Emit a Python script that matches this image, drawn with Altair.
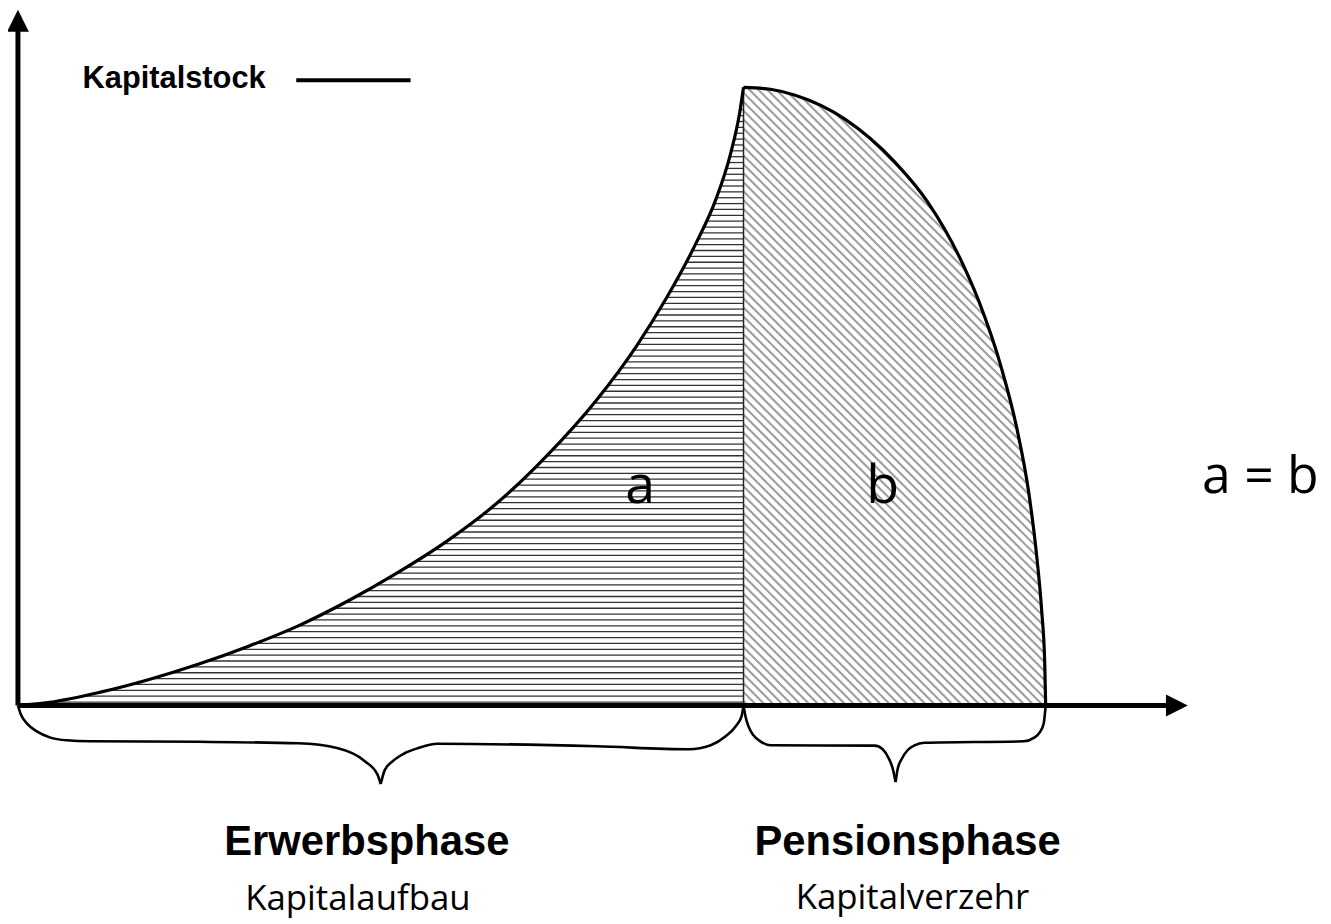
import altair as alt
import numpy as np
import pandas as pd

# ---------------- data (abstract units: time t, capital k) ----------------
phase_a_t = [0, 3.2, 8.2, 13.2, 18.2, 23.2, 28.2, 33.2, 38.2, 43.2, 48.2, 53.2,
             58.2, 62.2, 65.2, 68.2, 70.2, 71.7, 72.6, 73.0]
phase_a_k = [0, 0.32, 1.32, 2.62, 4.17, 5.97, 8.02, 10.52, 13.37, 16.57, 20.37, 25.12,
             30.72, 36.12, 40.92, 46.47, 50.87, 55.52, 59.57, 62.2]
phase_b_t = [73.0, 75.7, 78.2, 83.2, 88.2, 91.5, 94.9, 96.7, 98.9, 100.5,
             101.7, 102.5, 103.0, 103.3, 103.4]
phase_b_k = [62.2, 62.0, 61.4, 59.0, 54.7, 50.7, 44.75, 40.61, 34.12, 27.88,
             21.4, 15.0, 9.5, 4.4, 0.0]

# braces (each split into two halves meeting at the tip)
brace1a_t = [0, 0.3, 0.9, 1.9, 3.2, 4.9, 7.2, 18.2, 28.2, 32.2, 34.9, 36.2, 36.5]
brace1a_k = [0, -0.9, -1.8, -2.6, -3.2, -3.5, -3.6, -3.65, -3.8, -4.3, -5.6, -7.0, -7.9]
brace1b_t = [36.5, 36.9, 37.7, 38.9, 40.2, 42.2, 58.2, 67.5, 69.7, 71.2, 72.2, 72.8, 73.0]
brace1b_k = [-7.9, -6.5, -5.6, -4.8, -4.3, -3.85, -4.1, -4.4, -4.0, -3.1, -2.1, -1.1, 0]
brace2a_t = [73.0, 73.2, 73.5, 74.0, 74.7, 75.7, 86.2, 87.0, 87.6, 88.0, 88.3]
brace2a_k = [0, -1.1, -2.1, -3.0, -3.6, -4.0, -4.03, -4.4, -5.3, -6.3, -7.7]
brace2b_t = [88.3, 88.5, 88.9, 89.5, 90.2, 91.2, 101.2, 102.2, 102.8, 103.2, 103.4]
brace2b_k = [-7.7, -6.4, -5.4, -4.5, -4.0, -3.75, -3.6, -3.25, -2.7, -1.8, 0]

phase_titles = ["Erwerbsphase", "Pensionsphase"]
phase_title_t = [35.1, 89.5]
phase_subtitles = ["Kapitalaufbau", "Kapitalverzehr"]
phase_subtitle_t = [34.2, 90.0]
area_labels = ["a", "b"]
area_label_t = [62.6, 87.0]
legend_label = "Kapitalstock"
equation = "a = b"

# ---------------- layout constants ----------------
X_DOMAIN = [-1.0, 130.5]
Y_DOMAIN = [-20.9, 69.9]
W, H = 1315, 908

XS = alt.Scale(domain=X_DOMAIN, nice=False, zero=False)
YS = alt.Scale(domain=Y_DOMAIN, nice=False, zero=False)


def X(f):
    return alt.X(f, type="quantitative", scale=XS, axis=None)


def Y(f):
    return alt.Y(f, type="quantitative", scale=YS, axis=None)


# ---------------- monotone (d3 monotoneX) evaluation for hatch ends ----------------
def mono_tangents(x, y):
    h = np.diff(x)
    s = np.diff(y) / h
    n = len(x)
    t = np.zeros(n)
    for i in range(1, n - 1):
        p = (s[i - 1] * h[i] + s[i] * h[i - 1]) / (h[i - 1] + h[i])
        t[i] = (np.sign(s[i - 1]) + np.sign(s[i])) * min(abs(s[i - 1]), abs(s[i]), 0.5 * abs(p))
    t[0] = (3 * s[0] - t[1]) / 2
    t[-1] = (3 * s[-1] - t[-2]) / 2
    return t


def mono_eval(x, y, xq):
    x = np.asarray(x, float)
    y = np.asarray(y, float)
    t = mono_tangents(x, y)
    n = len(x)
    idx = np.clip(np.searchsorted(x, xq, side="right") - 1, 0, n - 2)
    x0 = x[idx]
    h = x[idx + 1] - x0
    u = (xq - x0) / h
    h00 = 2 * u**3 - 3 * u**2 + 1
    h10 = u**3 - 2 * u**2 + u
    h01 = -2 * u**3 + 3 * u**2
    h11 = u**3 - u**2
    return h00 * y[idx] + h10 * h * t[idx] + h01 * y[idx + 1] + h11 * h * t[idx + 1]


# horizontal hatch in region a
ta_dense = np.linspace(phase_a_t[0], phase_a_t[-1], 8000)
ka_dense = np.maximum.accumulate(mono_eval(phase_a_t, phase_a_k, ta_dense))
hk = np.arange(0.35, phase_a_k[-1] - 0.1, 0.59)
hx = np.interp(hk, ka_dense, ta_dense)
hatch_a = pd.DataFrame({"t": hx, "t2": phase_a_t[-1], "k": hk, "k2": hk})

# diagonal hatch in region b
tb_dense = np.linspace(phase_b_t[0], phase_b_t[-1], 8000)
kb_dense = mono_eval(phase_b_t, phase_b_k, tb_dense)
rows = []
for c in np.arange(phase_b_t[0] + 0.45, phase_b_t[-1] + phase_b_k[0], 0.9):
    kk = c - tb_dense
    ok = (kk >= 0) & (kk <= kb_dense)
    if ok.sum() < 2:
        continue
    tt = tb_dense[ok]
    rows.append({"t": tt.min(), "k": c - tt.min(), "t2": tt.max(), "k2": c - tt.max()})
hatch_b = pd.DataFrame(rows)

curve = pd.concat([
    pd.DataFrame({"t": phase_a_t, "k": phase_a_k, "seg": "a"}),
    pd.DataFrame({"t": phase_b_t, "k": phase_b_k, "seg": "b"}),
])
braces = pd.concat([
    pd.DataFrame({"t": brace1a_t, "k": brace1a_k, "seg": "1a"}),
    pd.DataFrame({"t": brace1b_t, "k": brace1b_k, "seg": "1b"}),
    pd.DataFrame({"t": brace2a_t, "k": brace2a_k, "seg": "2a"}),
    pd.DataFrame({"t": brace2b_t, "k": brace2b_k, "seg": "2b"}),
])

# ---------------- layers ----------------
l_hatch_a = alt.Chart(hatch_a).mark_rule(color="#333333", strokeWidth=1.3).encode(
    x=X("t"), x2="t2", y=Y("k"), y2="k2")
l_hatch_b = alt.Chart(hatch_b).mark_rule(color="#9e9e9e", strokeWidth=2.1).encode(
    x=X("t"), x2="t2", y=Y("k"), y2="k2")

divider = pd.DataFrame({"t": [phase_a_t[-1]], "k": [0.0], "k2": [phase_a_k[-1]]})
l_div = alt.Chart(divider).mark_rule(color="#222222", strokeWidth=1.5).encode(
    x=X("t"), y=Y("k"), y2="k2")

l_curve = alt.Chart(curve).mark_line(color="black", strokeWidth=3.2, interpolate="monotone").encode(
    x=X("t"), y=Y("k"), detail="seg:N")

l_braces = alt.Chart(braces).mark_line(color="black", strokeWidth=2.6, interpolate="monotone").encode(
    x=X("t"), y=Y("k"), detail="seg:N")

axes = pd.DataFrame({"t": [0.0, 0.0], "k": [0.0, 0.0], "t2": [115.6, 0.0], "k2": [0.0, 67.9]})
l_axes = alt.Chart(axes).mark_rule(color="black", strokeWidth=5).encode(
    x=X("t"), x2="t2", y=Y("k"), y2="k2")

arrow_up = pd.DataFrame({"t": [0.0], "k": [68.9]})
arrow_right = pd.DataFrame({"t": [116.6], "k": [0.0]})
l_arrow_up = alt.Chart(arrow_up).mark_point(
    shape="M0,-1L1,1L-1,1Z", size=484, filled=True, color="black", opacity=1, strokeWidth=0
).encode(x=X("t"), y=Y("k"))
l_arrow_right = alt.Chart(arrow_right).mark_point(
    shape="M1,0L-1,-1L-1,1Z", size=484, filled=True, color="black", opacity=1, strokeWidth=0
).encode(x=X("t"), y=Y("k"))

legend_line = pd.DataFrame({"t": [28.0], "t2": [39.5], "k": [62.9]})
l_legend_line = alt.Chart(legend_line).mark_rule(color="black", strokeWidth=4).encode(
    x=X("t"), x2="t2", y=Y("k"))
l_legend_text = alt.Chart(pd.DataFrame({"t": [6.5], "k": [62.1], "label": [legend_label]})).mark_text(
    font="Liberation Sans", fontWeight="bold", fontSize=31, align="left", baseline="alphabetic", color="black"
).encode(x=X("t"), y=Y("k"), text="label:N")

l_area_text = alt.Chart(pd.DataFrame({"t": area_label_t, "k": [20.4, 20.4], "label": area_labels})).mark_text(
    font="Open Sans", fontSize=54, align="center", baseline="alphabetic", color="black"
).encode(x=X("t"), y=Y("k"), text="label:N")

l_eq = alt.Chart(pd.DataFrame({"t": [125.0], "k": [21.4], "label": [equation]})).mark_text(
    font="Open Sans", fontSize=52, align="center", baseline="alphabetic", color="black"
).encode(x=X("t"), y=Y("k"), text="label:N")

l_titles = alt.Chart(pd.DataFrame({"t": phase_title_t, "k": [-15.0, -15.0], "label": phase_titles})).mark_text(
    font="Liberation Sans", fontWeight="bold", fontSize=42, align="center", baseline="alphabetic", color="black"
).encode(x=X("t"), y=Y("k"), text="label:N")

l_subtitles = alt.Chart(pd.DataFrame({"t": phase_subtitle_t, "k": [-20.6, -20.5], "label": phase_subtitles})).mark_text(
    font="Open Sans", fontSize=35, align="center", baseline="alphabetic", color="black"
).encode(x=X("t"), y=Y("k"), text="label:N")

chart = alt.layer(
    l_hatch_a, l_hatch_b, l_div, l_axes, l_curve, l_braces, l_arrow_up, l_arrow_right,
    l_legend_line, l_legend_text, l_area_text, l_eq, l_titles, l_subtitles
).properties(
    width=W, height=H,
    autosize=alt.AutoSizeParams(type="none"),
    padding={"left": 0, "top": 0, "right": 8, "bottom": 8},
    background="white",
).configure_view(stroke=None)

chart.save("out.html", embed_options={"renderer": "svg", "actions": False})
